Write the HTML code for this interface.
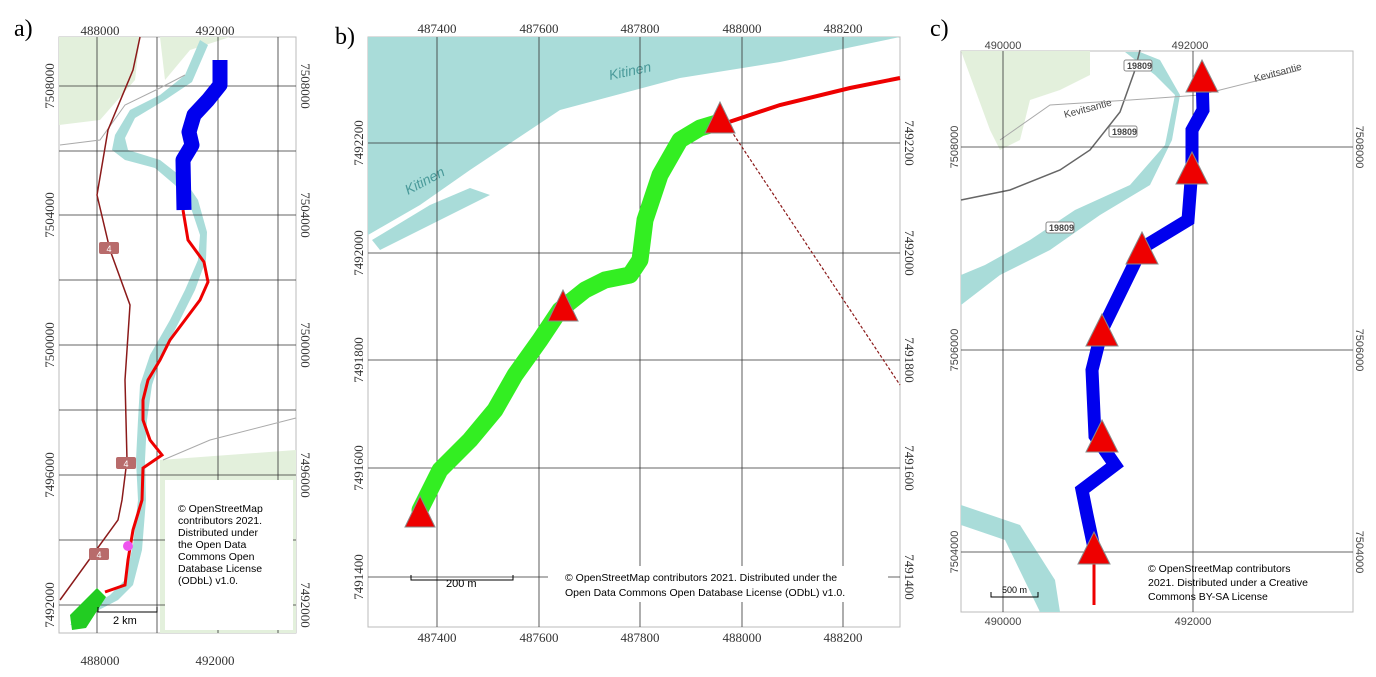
<!DOCTYPE html>
<html><head><meta charset="utf-8"><style>
html,body{margin:0;padding:0;background:#fff;}
svg{display:block;font-family:"Liberation Sans",sans-serif;}
</style></head><body>
<svg id="fig" width="1376" height="677" viewBox="0 0 1376 677">
<!-- Panel a -->
<g>
<text x="14" y="36" font-family="Liberation Serif" font-size="24">a)</text>
<rect x="59" y="37" width="237" height="596" fill="#fff" stroke="#bbb"/>
<path d="M59,37 L140,37 L135,80 L100,120 L59,125Z" fill="#e3f0dc"/>
<path d="M160,37 L230,37 L190,50 L165,80Z" fill="#e3f0dc"/>
<path d="M160,460 L296,450 L296,633 L160,633Z" fill="#e3f0dc"/>
<path d="M200,40 L185,75 L160,95 L130,110 L115,135 L112,150 L125,160 L155,168 L175,185 L190,205 L200,235 L198,260 L185,290 L170,320 L150,355 L140,385 L138,420 L136,460 L138,500 L133,545 L125,580 L110,595 L85,610 L70,625 L80,625 L95,612 L118,600 L133,585 L142,550 L146,500 L145,460 L147,420 L152,385 L162,355 L180,320 L195,290 L206,260 L207,232 L198,200 L183,178 L160,160 L128,150 L125,138 L135,118 L165,100 L192,82 L208,45Z" fill="#a9dcd9"/>
<g stroke="#333" stroke-width="0.8" fill="none">
<line x1="97" y1="37" x2="97" y2="633"/><line x1="157" y1="37" x2="157" y2="633"/><line x1="218" y1="37" x2="218" y2="633"/><line x1="278" y1="37" x2="278" y2="633"/>
<line x1="59" y1="86" x2="296" y2="86"/><line x1="59" y1="151" x2="296" y2="151"/><line x1="59" y1="215" x2="296" y2="215"/><line x1="59" y1="280" x2="296" y2="280"/><line x1="59" y1="345" x2="296" y2="345"/><line x1="59" y1="410" x2="296" y2="410"/><line x1="59" y1="475" x2="296" y2="475"/><line x1="59" y1="540" x2="296" y2="540"/><line x1="59" y1="605" x2="296" y2="605"/>
</g>
<path d="M60,145 L100,140 L125,105 L160,88 L185,75" stroke="#aaa" fill="none"/>
<path d="M163,460 L210,440 L296,418" stroke="#aaa" fill="none"/>
<path d="M140,37 L133,70 L108,130 L97,195 L110,250 L130,305 L125,380 L127,460 L122,500 L118,520 L60,600" stroke="#8b1a1a" stroke-width="1.5" fill="none"/>
<g>
<rect x="99" y="242" width="20" height="12" rx="2" fill="#b86b6b"/><text x="109" y="252" font-size="9" fill="#fff" text-anchor="middle">4</text>
<rect x="116" y="457" width="20" height="12" rx="2" fill="#b86b6b"/><text x="126" y="467" font-size="9" fill="#fff" text-anchor="middle">4</text>
<rect x="89" y="548" width="20" height="12" rx="2" fill="#b86b6b"/><text x="99" y="558" font-size="9" fill="#fff" text-anchor="middle">4</text>
</g>
<path d="M183,210 L188,240 L204,262 L208,282 L200,300 L185,320 L170,340 L160,360 L148,380 L143,400 L143,420 L150,440 L162,455 L143,468 L142,500 L133,530 L128,560 L125,585 L105,592" stroke="#e00" stroke-width="3" fill="none"/>
<path d="M220,60 L220,85 L208,100 L194,115 L189,132 L192,145 L183,160 L184,210" stroke="#0000ee" stroke-width="15" fill="none" stroke-linejoin="round"/>
<path d="M97,588 L106,597 L86,628 L72,630 L70,615Z" fill="#22cc22"/>
<circle cx="128" cy="546" r="5" fill="#ee55ee"/>
<rect x="165" y="480" width="128" height="150" fill="#fff"/>
<text font-size="10.5" fill="#000"><tspan x="178" y="512">© OpenStreetMap</tspan><tspan x="178" y="524">contributors 2021.</tspan><tspan x="178" y="536">Distributed under</tspan><tspan x="178" y="548">the Open Data</tspan><tspan x="178" y="560">Commons Open</tspan><tspan x="178" y="572">Database License</tspan><tspan x="178" y="584">(ODbL) v1.0.</tspan></text>
<path d="M98,607 L98,612 L157,612 L157,607" stroke="#000" fill="none"/>
<text x="113" y="624" font-size="11">2 km</text>
<g font-family="Liberation Serif" font-size="13" fill="#333">
<text x="100" y="35" text-anchor="middle">488000</text><text x="215" y="35" text-anchor="middle">492000</text>
<text x="100" y="665" text-anchor="middle">488000</text><text x="215" y="665" text-anchor="middle">492000</text>
<text transform="translate(54,86) rotate(-90)" text-anchor="middle">7508000</text>
<text transform="translate(54,215) rotate(-90)" text-anchor="middle">7504000</text>
<text transform="translate(54,345) rotate(-90)" text-anchor="middle">7500000</text>
<text transform="translate(54,475) rotate(-90)" text-anchor="middle">7496000</text>
<text transform="translate(54,605) rotate(-90)" text-anchor="middle">7492000</text>
<text transform="translate(301,86) rotate(90)" text-anchor="middle">7508000</text>
<text transform="translate(301,215) rotate(90)" text-anchor="middle">7504000</text>
<text transform="translate(301,345) rotate(90)" text-anchor="middle">7500000</text>
<text transform="translate(301,475) rotate(90)" text-anchor="middle">7496000</text>
<text transform="translate(301,605) rotate(90)" text-anchor="middle">7492000</text>
</g>
</g>
<!-- Panel b -->
<g>
<text x="335" y="44" font-family="Liberation Serif" font-size="24">b)</text>
<rect x="368" y="37" width="532" height="590" fill="#fff" stroke="#bbb"/>
<path d="M368,37 L900,37 L780,62 L680,78 L560,110 L470,170 L420,205 L368,235Z" fill="#a9dcd9"/>
<path d="M372,240 L430,205 L470,188 L490,195 L440,220 L380,250Z" fill="#a9dcd9"/>
<text x="610" y="80" font-size="14" fill="#4a9a9a" transform="rotate(-12 610 80)" font-style="italic">Kitinen</text>
<text x="408" y="195" font-size="14" fill="#4a9a9a" transform="rotate(-28 408 195)" font-style="italic">Kitinen</text>
<g stroke="#333" stroke-width="0.8">
<line x1="437" y1="37" x2="437" y2="627"/><line x1="539" y1="37" x2="539" y2="627"/><line x1="640" y1="37" x2="640" y2="627"/><line x1="742" y1="37" x2="742" y2="627"/><line x1="843" y1="37" x2="843" y2="627"/>
<line x1="368" y1="143" x2="900" y2="143"/><line x1="368" y1="253" x2="900" y2="253"/><line x1="368" y1="360" x2="900" y2="360"/><line x1="368" y1="468" x2="900" y2="468"/><line x1="368" y1="577" x2="900" y2="577"/>
</g>
<path d="M728,126 L900,385" stroke="#8b1a1a" stroke-dasharray="3,2" stroke-width="1.2" fill="none"/>
<path d="M720,125 L780,105 L850,88 L900,78" stroke="#e00" stroke-width="4" fill="none"/>
<path d="M420,510 L440,470 L470,440 L495,410 L515,375 L540,340 L560,310 L585,290 L605,280 L630,275 L640,260 L645,220 L660,175 L680,140 L700,128 L720,122" stroke="#33ee22" stroke-width="17" stroke-linejoin="round" stroke-linecap="round" fill="none"/>
<g fill="#ee0000" stroke="#888">
<polygon points="420,496 405,527 435,527"/><polygon points="563,290 548,321 578,321"/><polygon points="720,102 705,133 735,133"/>
</g>
<rect x="548" y="566" width="340" height="36" fill="#fff"/>
<text font-size="10.5"><tspan x="565" y="581">© OpenStreetMap contributors 2021. Distributed under the</tspan><tspan x="565" y="596">Open Data Commons Open Database License (ODbL) v1.0.</tspan></text>
<path d="M411,575 L411,580 L513,580 L513,575" stroke="#000" fill="none"/>
<text x="446" y="587" font-size="11">200 m</text>
<g font-family="Liberation Serif" font-size="13" fill="#333">
<text x="437" y="33" text-anchor="middle">487400</text><text x="539" y="33" text-anchor="middle">487600</text><text x="640" y="33" text-anchor="middle">487800</text><text x="742" y="33" text-anchor="middle">488000</text><text x="843" y="33" text-anchor="middle">488200</text>
<text x="437" y="642" text-anchor="middle">487400</text><text x="539" y="642" text-anchor="middle">487600</text><text x="640" y="642" text-anchor="middle">487800</text><text x="742" y="642" text-anchor="middle">488000</text><text x="843" y="642" text-anchor="middle">488200</text>
<text transform="translate(363,143) rotate(-90)" text-anchor="middle">7492200</text>
<text transform="translate(363,253) rotate(-90)" text-anchor="middle">7492000</text>
<text transform="translate(363,360) rotate(-90)" text-anchor="middle">7491800</text>
<text transform="translate(363,468) rotate(-90)" text-anchor="middle">7491600</text>
<text transform="translate(363,577) rotate(-90)" text-anchor="middle">7491400</text>
<text transform="translate(905,143) rotate(90)" text-anchor="middle">7492200</text>
<text transform="translate(905,253) rotate(90)" text-anchor="middle">7492000</text>
<text transform="translate(905,360) rotate(90)" text-anchor="middle">7491800</text>
<text transform="translate(905,468) rotate(90)" text-anchor="middle">7491600</text>
<text transform="translate(905,577) rotate(90)" text-anchor="middle">7491400</text>
</g>
</g>
<!-- Panel c -->
<g>
<text x="930" y="36" font-family="Liberation Serif" font-size="24">c)</text>
<rect x="961" y="51" width="392" height="561" fill="#fff" stroke="#bbb"/>
<path d="M961,51 L1090,51 L1090,75 L1060,90 L1030,100 L1020,140 L1000,150 L990,130Z" fill="#e3f0dc"/>
<path d="M1100,52 L1125,52 L1155,75 L1175,95 L1165,145 L1130,185 L1075,210 L1030,240 L985,265 L961,275 L961,305 L1000,275 L1050,250 L1100,215 L1150,185 L1172,140 L1180,95 L1160,60 L1140,52Z" fill="#a9dcd9"/>
<path d="M961,505 L1020,525 L1055,580 L1060,612 L1040,612 L1005,540 L961,525Z" fill="#a9dcd9"/>
<path d="M961,200 L1010,190 L1060,170 L1090,150 L1120,112 L1135,70 L1140,50" stroke="#666" stroke-width="1.5" fill="none"/>
<path d="M1000,140 L1050,105 L1130,100 L1200,95 L1300,70" stroke="#aaa" stroke-width="1" fill="none"/>
<text x="1065" y="118" font-size="10" fill="#444" transform="rotate(-15 1065 118)">Kevitsantie</text>
<text x="1255" y="82" font-size="10" fill="#444" transform="rotate(-15 1255 82)">Kevitsantie</text>
<g font-size="9" font-weight="bold" fill="#444">
<rect x="1124" y="60" width="28" height="11" fill="#fff" stroke="#888" rx="2"/><text x="1127" y="69">19809</text>
<rect x="1109" y="126" width="28" height="11" fill="#fff" stroke="#888" rx="2"/><text x="1112" y="135">19809</text>
<rect x="1046" y="222" width="28" height="11" fill="#fff" stroke="#888" rx="2"/><text x="1049" y="231">19809</text>
</g>
<g stroke="#333" stroke-width="0.8">
<line x1="1003" y1="51" x2="1003" y2="612"/><line x1="1193" y1="51" x2="1193" y2="612"/>
<line x1="961" y1="147" x2="1353" y2="147"/><line x1="961" y1="350" x2="1353" y2="350"/><line x1="961" y1="552" x2="1353" y2="552"/>
</g>
<path d="M1094,552 L1094,605" stroke="#e00" stroke-width="3" fill="none"/>
<path d="M1202,75 L1203,110 L1192,130 L1192,168 L1188,220 L1142,248 L1102,330 L1092,370 L1095,436 L1115,465 L1082,490 L1087,515 L1094,548" stroke="#0000ee" stroke-width="13" stroke-linejoin="miter" fill="none"/>
<g fill="#ee0000" stroke="#888">
<polygon points="1202,60 1186,92 1218,92"/><polygon points="1192,152 1176,184 1208,184"/><polygon points="1142,232 1126,264 1158,264"/><polygon points="1102,314 1086,346 1118,346"/><polygon points="1102,420 1086,452 1118,452"/><polygon points="1094,532 1078,564 1110,564"/>
</g>
<text font-size="10.5"><tspan x="1148" y="572">© OpenStreetMap contributors</tspan><tspan x="1148" y="586">2021. Distributed under a Creative</tspan><tspan x="1148" y="600">Commons BY-SA License</tspan></text>
<path d="M991,592 L991,597 L1038,597 L1038,592" stroke="#000" fill="none"/>
<text x="1002" y="593" font-size="9">500 m</text>
<g font-size="11" fill="#444">
<text x="1003" y="49" text-anchor="middle">490000</text><text x="1190" y="49" text-anchor="middle">492000</text>
<text x="1003" y="625" text-anchor="middle">490000</text><text x="1193" y="625" text-anchor="middle">492000</text>
<text transform="translate(958,147) rotate(-90)" text-anchor="middle">7508000</text>
<text transform="translate(958,350) rotate(-90)" text-anchor="middle">7506000</text>
<text transform="translate(958,552) rotate(-90)" text-anchor="middle">7504000</text>
<text transform="translate(1356,147) rotate(90)" text-anchor="middle">7508000</text>
<text transform="translate(1356,350) rotate(90)" text-anchor="middle">7506000</text>
<text transform="translate(1356,552) rotate(90)" text-anchor="middle">7504000</text>
</g>
</g>
</svg>
</body></html>
